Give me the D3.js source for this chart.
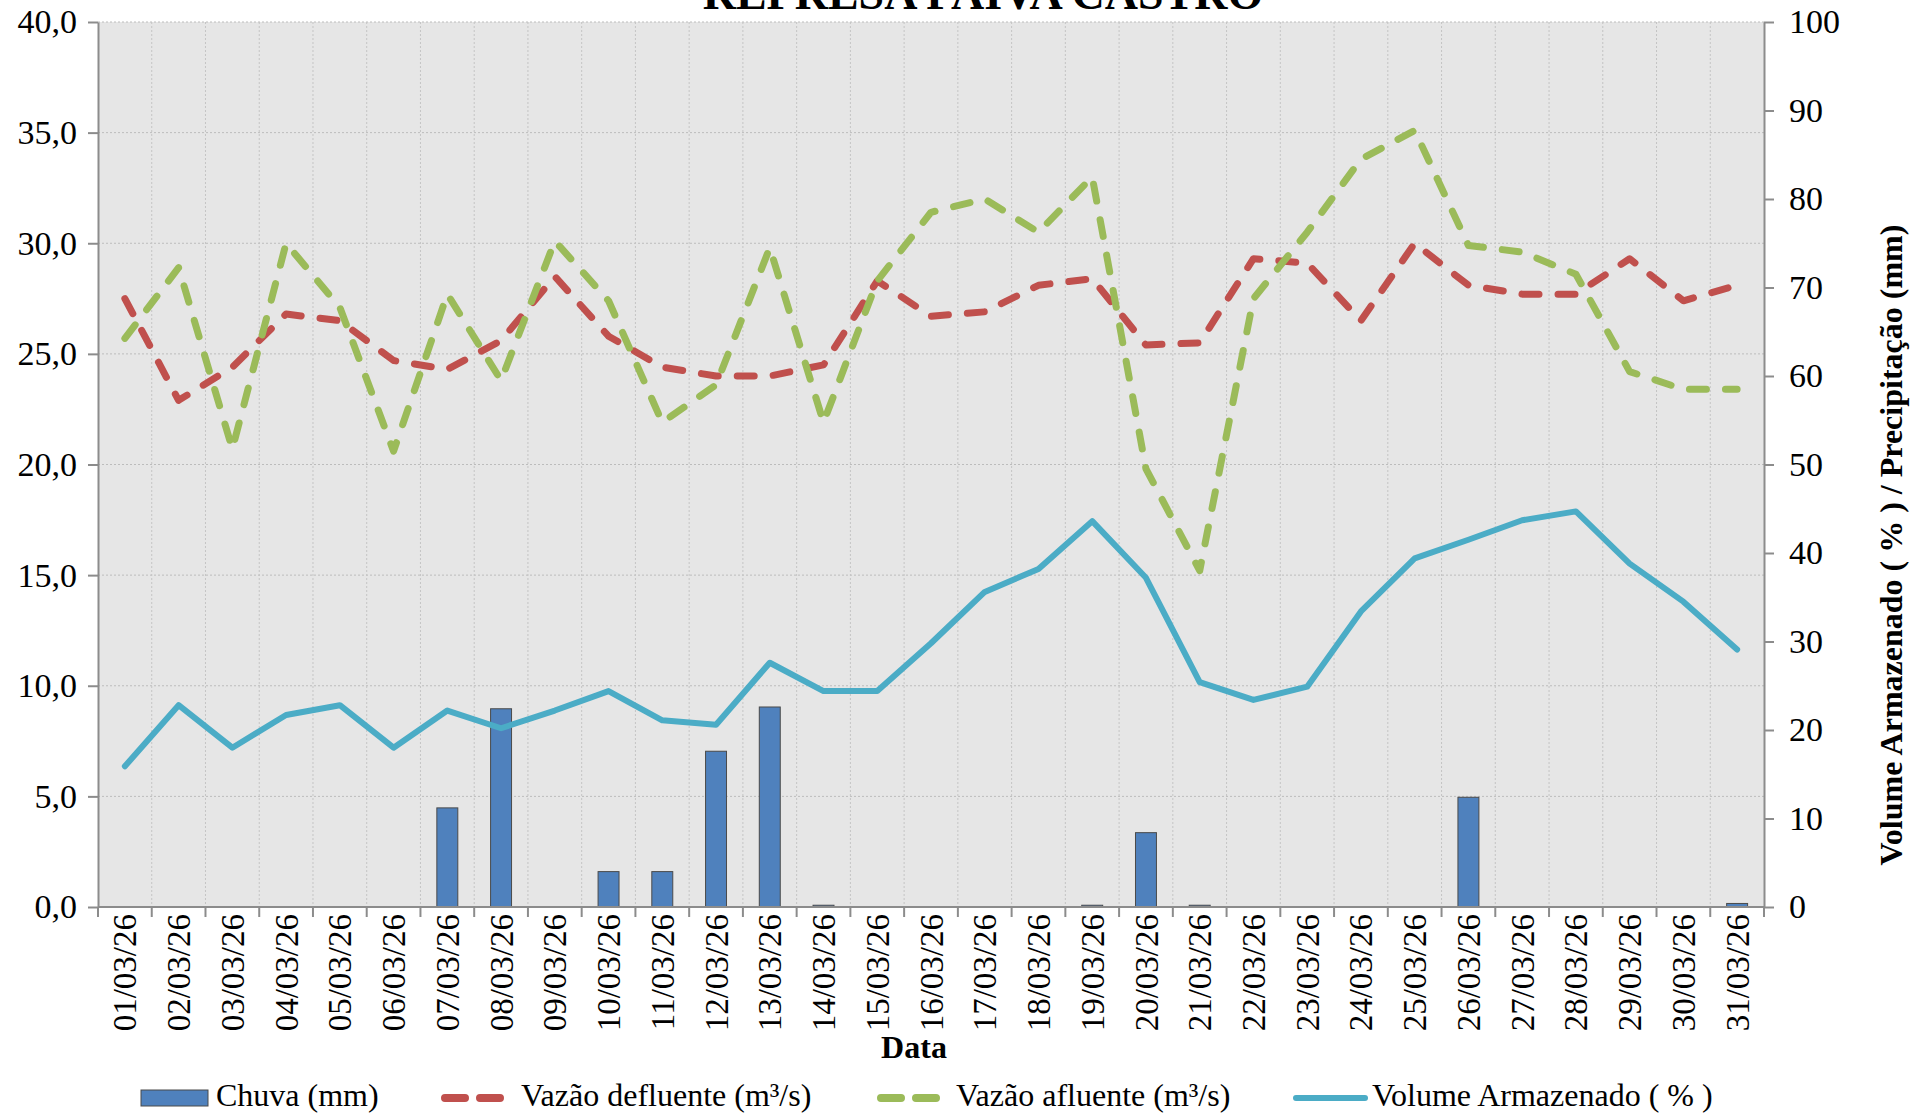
<!DOCTYPE html>
<html>
<head>
<meta charset="utf-8">
<script src="https://cdn.jsdelivr.net/npm/d3@7"></script>
<style>
body { margin:0; background:#fff; overflow:hidden; }
svg text { font-family:"Liberation Serif","Times New Roman",serif !important; fill:#000; }
</style>
</head>
<body>
<div class="container"></div>
<script>
// dados (marco/26)
var dias = ["01/03/26","02/03/26","03/03/26","04/03/26","05/03/26","06/03/26","07/03/26","08/03/26",
            "09/03/26","10/03/26","11/03/26","12/03/26","13/03/26","14/03/26","15/03/26","16/03/26",
            "17/03/26","18/03/26","19/03/26","20/03/26","21/03/26","22/03/26","23/03/26","24/03/26",
            "25/03/26","26/03/26","27/03/26","28/03/26","29/03/26","30/03/26","31/03/26"];

// chuva e volume vao no eixo da direita
var chuva = [0,0,0,0,0,0,11.2,22.4,0,4.0,4.0,17.6,22.6,0.2,0,0,
             0,0,0.2,8.4,0.2,0,0,0,0,12.4,0,0,0,0,0.4];
var volume = [15.9,22.8,18.0,21.7,22.8,18.0,22.2,20.2,22.2,24.4,21.1,20.6,27.6,24.4,24.4,29.8,
              35.6,38.2,43.6,37.2,25.4,23.4,24.9,33.4,39.4,41.5,43.7,44.7,38.8,34.5,29.1];

// vazoes no eixo da esquerda
var defluente = [27.5,22.9,24.4,26.8,26.5,24.7,24.3,25.6,28.5,25.8,24.4,24.0,24.0,24.5,28.3,26.7,
                 26.9,28.1,28.4,25.4,25.5,29.3,29.1,26.5,30.0,28.1,27.7,27.7,29.3,27.4,28.1];
var afluente = [25.7,28.9,20.7,30.0,27.1,20.6,27.7,23.8,30.1,27.4,21.9,23.6,29.8,21.9,28.3,31.4,
                32.0,30.5,33.0,19.8,15.2,27.5,30.5,33.8,35.1,29.9,29.6,28.6,24.2,23.4,23.4];

var ticksEsq = [0,5,10,15,20,25,30,35,40];
var ticksDir = [0,10,20,30,40,50,60,70,80,90,100];

var W = 1921, H = 1116;
var L = 98, R = 1764, T = 22, B = 907;
var serif = '"Liberation Serif","Times New Roman",serif';

function makeStage(w,h) {
	var stage = d3.select(".container")
		.append("svg")
		.attr("width",w)
		.attr("height",h);
	return stage;
}

var svg = makeStage(W,H);

var x = d3.scaleBand().domain(dias).range([L,R]);
var yEsq = d3.scaleLinear().domain([0,40]).range([B,T]);
var yDir = d3.scaleLinear().domain([0,100]).range([B,T]);
var meio = function(i) { return x(dias[i]) + x.bandwidth()/2; };

// fundo cinza da area do grafico
svg.append("rect")
	.attr("x",L).attr("y",T)
	.attr("width",R-L).attr("height",B-T)
	.attr("fill","#e6e6e6");

// linhas de grade pontilhadas
svg.append("g").selectAll("line")
	.data(ticksEsq.filter(function(v) { return v > 0; }))
	.join("line")
	.attr("x1",L).attr("x2",R)
	.attr("y1",function(d) { return yEsq(d); })
	.attr("y2",function(d) { return yEsq(d); })
	.attr("stroke","#bcbcbc")
	.attr("stroke-dasharray","2,2");

svg.append("g").selectAll("line")
	.data(dias.slice(1))
	.join("line")
	.attr("x1",function(d) { return x(d); })
	.attr("x2",function(d) { return x(d); })
	.attr("y1",T).attr("y2",B)
	.attr("stroke","#c4c4c4")
	.attr("stroke-dasharray","2,2");

// barras de chuva
var larg = x.bandwidth()*0.39;
svg.append("g").selectAll("rect")
	.data(chuva)
	.join("rect")
	.attr("x",function(d,i) { return meio(i) - larg/2; })
	.attr("y",function(d) { return yDir(d); })
	.attr("width",larg)
	.attr("height",function(d) { return B - yDir(d); })
	.attr("fill","#4f81bd")
	.attr("stroke","#4a4a4a")
	.attr("stroke-width",1);

function drawLine(valores, escala, cor, tracejado, largura) {
	var linha = d3.line()
		.x(function(d,i) { return meio(i); })
		.y(function(d) { return escala(d); });
	var p = svg.append("path")
		.datum(valores)
		.attr("d",linha)
		.attr("fill","none")
		.attr("stroke",cor)
		.attr("stroke-width",largura)
		.attr("stroke-linejoin","round")
		.attr("stroke-linecap","round");
	if (tracejado) p.attr("stroke-dasharray",tracejado);
}

drawLine(defluente, yEsq, "#c0504d", "17,19", 7);
drawLine(afluente, yEsq, "#9bbb59", "17,19", 7);
drawLine(volume, yDir, "#4bacc6", null, 6);

// eixos
var fmt = function(d) { return d3.format(".1f")(d).replace(".",","); };

var gEsq = svg.append("g")
	.attr("transform","translate("+L+",0)")
	.call(d3.axisLeft(yEsq).tickValues(ticksEsq).tickSize(10).tickSizeOuter(0).tickPadding(11).tickFormat(fmt));

var gDir = svg.append("g")
	.attr("transform","translate("+R+",0)")
	.call(d3.axisRight(yDir).tickValues(ticksDir).tickSize(10).tickSizeOuter(0).tickPadding(15));

[gEsq, gDir].forEach(function(g) {
	g.attr("font-family",serif);
	g.select(".domain").attr("stroke","#8c8c8c").attr("stroke-width",2);
	g.selectAll(".tick line").attr("stroke","#8c8c8c").attr("stroke-width",2);
	g.selectAll(".tick text").style("font-family",serif).style("font-size","34px");
});

// eixo x: linha, marcas nas divisas e datas giradas
svg.append("line")
	.attr("x1",L).attr("x2",R).attr("y1",B).attr("y2",B)
	.attr("stroke","#8c8c8c").attr("stroke-width",2);

svg.append("g").selectAll("line")
	.data(dias.concat(["fim"]))
	.join("line")
	.attr("x1",function(d,i) { return L + i*x.step(); })
	.attr("x2",function(d,i) { return L + i*x.step(); })
	.attr("y1",B).attr("y2",B+10)
	.attr("stroke","#8c8c8c").attr("stroke-width",2);

svg.append("g").selectAll("text")
	.data(dias)
	.join("text")
	.attr("transform",function(d,i) { return "translate("+meio(i)+","+(B+7)+") rotate(-90)"; })
	.attr("text-anchor","end")
	.attr("dy","0.35em")
	.style("font-family",serif)
	.style("font-size","33px")
	.text(function(d) { return d; });

// titulos (o de cima fica cortado como no original)
svg.append("text")
	.attr("x",983).attr("y",9)
	.attr("text-anchor","middle")
	.style("font-family",serif)
	.style("font-size","46px")
	.style("font-weight","bold")
	.text("REPRESA PAIVA CASTRO");

svg.append("text")
	.attr("x",914).attr("y",1058)
	.attr("text-anchor","middle")
	.style("font-family",serif)
	.style("font-size","32px")
	.style("font-weight","bold")
	.text("Data");

svg.append("text")
	.attr("transform","translate(1902,545) rotate(-90)")
	.attr("text-anchor","middle")
	.style("font-family",serif)
	.style("font-size","32px")
	.style("font-weight","bold")
	.text("Volume Armazenado ( % ) / Precipitação  (mm)");

// legenda
var legY = 1098;
svg.append("rect")
	.attr("x",141).attr("y",legY-8).attr("width",67).attr("height",16)
	.attr("fill","#4f81bd").attr("stroke","#4a4a4a");

function legLine(x1, x2, cor, tracejado, largura) {
	var l = svg.append("line")
		.attr("x1",x1).attr("x2",x2).attr("y1",legY).attr("y2",legY)
		.attr("stroke",cor).attr("stroke-width",largura)
		.attr("stroke-linecap","round");
	if (tracejado) l.attr("stroke-dasharray",tracejado);
}
legLine(445, 505, "#c0504d", "20,15", 8);
legLine(881, 941, "#9bbb59", "20,15", 8);
legLine(1296, 1365, "#4bacc6", null, 6);

var legendas = [["Chuva (mm)",216],["Vazão defluente (m³/s)",521],["Vazão afluente (m³/s)",956],["Volume Armazenado ( % )",1372]];
svg.append("g").selectAll("text")
	.data(legendas)
	.join("text")
	.attr("x",function(d) { return d[1]; })
	.attr("y",legY+8)
	.style("font-family",serif)
	.style("font-size","32px")
	.text(function(d) { return d[0]; });
</script>
</body>
</html>
